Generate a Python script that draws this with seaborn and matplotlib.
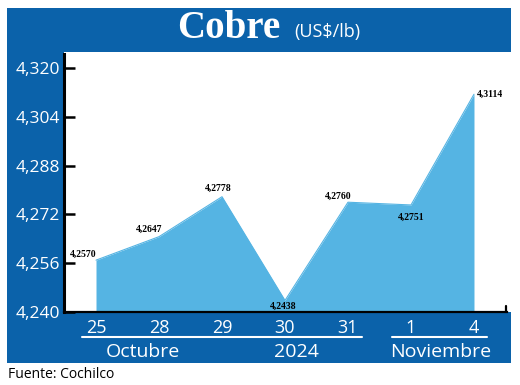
import matplotlib
matplotlib.use("Agg")
import matplotlib.pyplot as plt
import seaborn as sns
import pandas as pd
from matplotlib.patches import Rectangle
from matplotlib.lines import Line2D

# ---- data ----
days = ["25", "28", "29", "30", "31", "1", "4"]
prices = [4.2570, 4.2647, 4.2778, 4.2438, 4.2760, 4.2751, 4.3114]
value_labels = ["4,2570", "4,2647", "4,2778", "4,2438", "4,2760", "4,2751", "4,3114"]
yticks = [4.240, 4.256, 4.272, 4.288, 4.304, 4.320]
ytick_labels = ["4,240", "4,256", "4,272", "4,288", "4,304", "4,320"]
month_labels = ["Octubre", "2024", "Noviembre"]
title = "Cobre"
unit = "(US$/lb)"
source = "Fuente: Cochilco"

# ---- style ----
sns.set_style("white")
SANS = ["Liberation Sans Narrow", "Open Sans", "DejaVu Sans"]
SERIF = ["Liberation Serif", "DejaVu Serif"]
plt.rcParams["font.family"] = SANS

BLUE = "#0B62AA"
FILL = "#55B4E3"
W, H = 520, 385

df = pd.DataFrame({"idx": range(len(days)), "price": prices})

fig = plt.figure(figsize=(W / 100, H / 100), dpi=100)
fig.patch.set_facecolor("white")

def fx(px):
    return px / W

def fy(py):
    return 1 - py / H

# blue frame (title band, left column, bottom band)
for (x0, y0, x1, y1) in [(7, 8, 511, 52), (7, 52, 64, 363), (7, 312, 511, 363)]:
    fig.patches.append(Rectangle((fx(x0), fy(y1)), fx(x1 - x0), (y1 - y0) / H,
                                 transform=fig.transFigure, facecolor=BLUE,
                                 edgecolor="none", zorder=-10))

ax = fig.add_axes([fx(64), fy(312), fx(507 - 64), (312 - 54) / H])
ax.set_facecolor("white")
ax.set_zorder(2)

ymin, ymax = 4.240, 4.3246
ax.fill_between(df["idx"], ymin, df["price"], color=FILL, linewidth=0, zorder=1)
sns.lineplot(data=df, x="idx", y="price", ax=ax, color=FILL, linewidth=0.8, zorder=2)

ax.set_xlim(-0.508, 6.524)
ax.set_ylim(ymin, ymax)
ax.set_xticks(range(len(days)))
ax.set_xticklabels(days)
ax.set_yticks(yticks)
ax.set_yticklabels(ytick_labels)
ax.set_xlabel("")
ax.set_ylabel("")

for s in ["top", "right"]:
    ax.spines[s].set_visible(False)
ax.spines["left"].set_color("black")
ax.spines["left"].set_linewidth(2.2)
ax.spines["bottom"].set_color("black")
ax.spines["bottom"].set_linewidth(1.6)

ax.tick_params(axis="y", direction="in", length=8, width=1.8, color="black",
               labelcolor="white", labelsize=12.5, pad=3, left=True)
ax.tick_params(axis="x", length=0, labelcolor="white", labelsize=13, pad=5)

# small end tick on the right of the x axis
ax.add_line(Line2D([0.9985, 0.9985], [0.0, 0.025], transform=ax.transAxes,
                   color="black", linewidth=1.6, clip_on=False))

# value labels (offsets in points)
offsets = [(0, 4, "right"), (-7, 5, "center"), (-3, 6, "center"),
           (-1, -4, "center"), (-7, 4, "center"), (0, -9, "center"), (2, 0, "left")]
for i, (lab, (dx, dy, ha)) in enumerate(zip(value_labels, offsets)):
    ax.annotate(lab, (i, prices[i]), xytext=(dx, dy), textcoords="offset points",
                ha=ha, va="center", fontsize=7, fontweight="bold",
                family=SERIF, color="black", zorder=5)

# month / year labels with white rules
for (x0, x1) in [(82, 362), (392, 487)]:
    fig.lines.append(Line2D([fx(x0), fx(x1)], [fy(337), fy(337)],
                            transform=fig.transFigure, color="white", linewidth=1.5))
for lab, cx in zip(month_labels, [143, 296, 441]):
    fig.text(fx(cx), fy(352), lab, ha="center", va="center", color="white", fontsize=14)

# title
fig.text(fx(229), fy(29), title, ha="center", va="center", color="white",
         fontsize=28, fontweight="bold", family=SERIF)
fig.text(fx(327), fy(32), unit, ha="center", va="center", color="white", fontsize=13)

# source
fig.text(fx(8), fy(375), source, ha="left", va="center", color="black", fontsize=10)

fig.savefig("out.png", dpi=100)
